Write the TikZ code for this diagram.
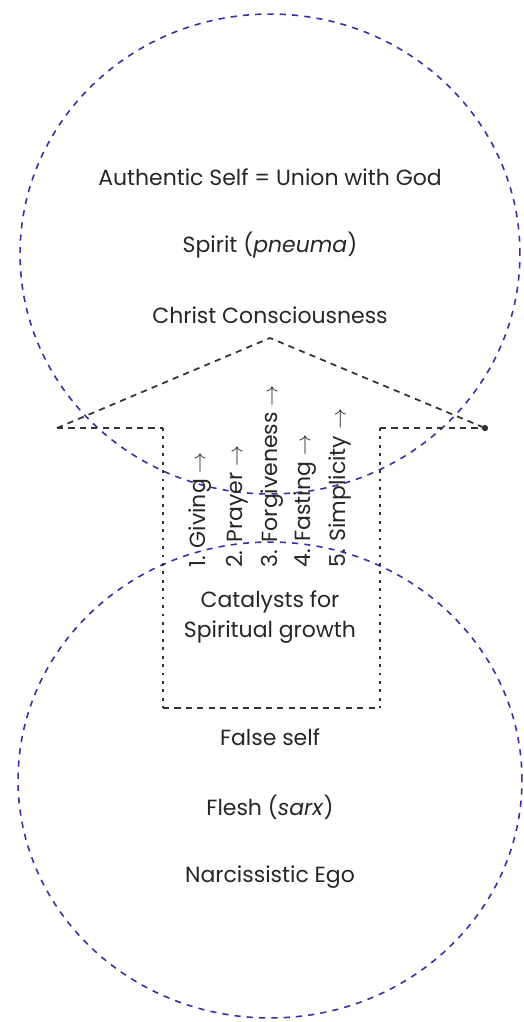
\documentclass[tikz,border=0pt]{standalone}
\usepackage{fontspec}
\setmainfont{Poppins}
\usetikzlibrary{shapes}
\usetikzlibrary{positioning}
\usetikzlibrary{arrows.meta}
\definecolor{soulblue}{RGB}{55,45,175}
\tikzset{
    soul/.style = {ellipse, draw=soulblue, line width=0.9pt, dash pattern=on 3.5pt off 3.5pt, inner sep=0pt},
    roof/.style = {line width=1pt, draw=black!80, dash pattern=on 3.5pt off 3pt},
    wall/.style = {line width=1.2pt, draw=black!80, dash pattern=on 1.6pt off 3.2pt},
    words/.style = {font=\fontsize{12.5}{17.5}\selectfont, text=black!85},
    practice/.style = {words, rotate=90, anchor=west, inner sep=0pt}
}

\begin{document}
\begin{tikzpicture}[x=0.02cm, y=-0.02cm]
  \useasboundingbox (0,0) rectangle (524,1022);

  % the two selves
  \node[soul, minimum width=10cm, minimum height=9.6cm] (upper) at (270,254) {};
  \node[soul, minimum width=10.08cm, minimum height=9.52cm] (lower) at (270,780) {};

  % arrow outline
  \coordinate (apex) at (270,338);
  \coordinate (lwing) at (57,428);
  \coordinate (rwing) at (485,428);
  \coordinate (lneck) at (163,428);
  \coordinate (rneck) at (380,428);
  \coordinate (lfoot) at (163,708);
  \coordinate (rfoot) at (380,708);

  \draw[roof] (lwing) -- (apex) -- (rwing);
  \draw[roof] (lwing) -- (lneck);
  \draw[roof] (rneck) -- (rwing);
  \draw[wall] (lneck) -- (lfoot);
  \draw[wall] (rneck) -- (rfoot);
  \draw[roof] (lfoot) -- (rfoot);
  \fill[black!80] (rwing) circle (1.8pt);

  % upper texts
  \node[words] (union) at (270,177) {Authentic Self = Union with God};
  \node[words] (spirit) at (270,245) {Spirit (\emph{pneuma})};
  \node[words] (christ) at (270,315) {Christ Consciousness};

  % catalysts
  \node[practice] (giving) at (200,568) {1. Giving $\rightarrow$};
  \node[practice] (prayer) at (237,568) {2. Prayer $\rightarrow$};
  \node[practice] (forgive) at (272,568) {3. Forgiveness $\rightarrow$};
  \node[practice] (fasting) at (305,568) {4. Fasting $\rightarrow$};
  \node[practice] (simple) at (340,568) {5. Simplicity $\rightarrow$};
  \node[words, align=center] (catalyst) at (270,617) {Catalysts for\\Spiritual growth};

  % lower texts
  \node[words] (false) at (270,737) {False self};
  \node[words] (flesh) at (270,807) {Flesh (\emph{sarx})};
  \node[words] (ego) at (270,877) {Narcissistic Ego};
\end{tikzpicture}
\end{document}
